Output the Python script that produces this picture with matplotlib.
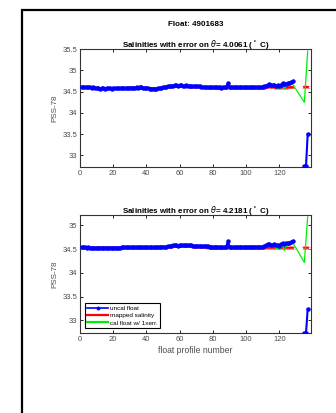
import numpy as np
import matplotlib
matplotlib.use("Agg")
import matplotlib.pyplot as plt
from matplotlib.patches import Rectangle
from matplotlib.lines import Line2D

plt.rcParams['font.family'] = ['Liberation Sans', 'DejaVu Sans']

nan = np.nan
profiles = list(range(1, 129))
end_x = [135, 136, 137]

# Top panel (theta = 4.0061)
uncal1 = [34.61, 34.61, 34.60, 34.61, 34.60, 34.60, 34.59, 34.60, 34.59, 34.58,
          34.58, 34.57, 34.58, 34.58, 34.57, 34.58, 34.58, 34.58, 34.57, 34.58,
          34.58, 34.58, 34.58, 34.58, 34.59, 34.59, 34.58, 34.58, 34.59, 34.59,
          34.59, 34.59, 34.59, 34.60, 34.59, 34.60, 34.60, 34.59, 34.59, 34.59,
          34.58, 34.57, 34.57, 34.57, 34.57, 34.57, 34.58, 34.58, 34.59, 34.60,
          34.60, 34.61, 34.62, 34.63, 34.64, 34.64, 34.65, 34.65, 34.64, 34.65,
          34.65, 34.64, 34.64, 34.65, 34.64, 34.64, 34.63, 34.63, 34.63, 34.62,
          34.62, 34.62, 34.61, 34.61, 34.61, 34.60, 34.61, 34.60, 34.60, 34.60,
          34.60, 34.60, 34.60, 34.60, 34.59, 34.60, 34.60, 34.61, 34.70, 34.61,
          34.60, 34.60, 34.60, 34.60, 34.60, 34.61, 34.60, 34.60, 34.60, 34.60,
          34.60, 34.60, 34.60, 34.60, 34.60, 34.60, 34.61, 34.60, 34.60, 34.61,
          34.62, 34.64, 34.66, 34.67, 34.66, 34.65, 34.66, 34.64, 34.65, 34.63,
          34.66, 34.70, 34.67, 34.69, 34.70, 34.70, 34.72, 34.74]
uncal1_end = [32.75, 32.75, 33.5]
mapped1 = [34.61, 34.61, 34.61, 34.60, 34.60, 34.60, 34.60, 34.59, 34.59, 34.59,
           34.59, 34.58, 34.58, 34.58, 34.58, 34.58, 34.58, 34.58, 34.58, 34.58,
           34.58, 34.58, 34.58, 34.58, 34.58, 34.58, 34.58, 34.58, 34.59, 34.59,
           34.59, 34.59, 34.59, 34.59, 34.59, 34.59, 34.59, 34.59, 34.59, 34.59,
           34.58, 34.58, 34.57, 34.57, 34.57, 34.57, 34.57, 34.58, 34.58, 34.59,
           34.60, 34.61, 34.62, 34.62, 34.63, 34.63, 34.63, 34.63, 34.63, 34.63,
           34.63, 34.63, 34.63, 34.63, 34.63, 34.62, 34.62, 34.62, 34.62, 34.61,
           34.61, 34.61, 34.60, 34.60, 34.60, 34.60, 34.59, 34.59, 34.59, 34.59,
           34.58, 34.58, 34.58, 34.58, 34.58, 34.58, 34.59, 34.59, 34.60, 34.59,
           34.59, 34.59, 34.59, 34.59, 34.59, 34.59, 34.59, 34.59, 34.59, 34.59,
           34.59, 34.59, 34.59, 34.59, 34.59, 34.59, 34.59, 34.59, 34.59, 34.59,
           34.59, 34.60, 34.60, 34.61, 34.60, 34.60, 34.60, 34.59, 34.59, 34.59,
           34.59, 34.60, 34.59, 34.59, 34.60, 34.60, 34.60, 34.60]
mapped1_end = [34.61, 34.61, 34.61]
cal1 = [34.61, 34.61, 34.60, 34.61, 34.60, 34.60, 34.59, 34.60, 34.59, 34.58,
        34.58, 34.57, 34.58, 34.58, 34.57, 34.58, 34.58, 34.58, 34.57, 34.58,
        34.58, 34.58, 34.58, 34.58, 34.59, 34.59, 34.58, 34.58, 34.59, 34.59,
        34.59, 34.59, 34.59, 34.60, 34.59, 34.60, 34.60, 34.59, 34.59, 34.59,
        34.58, 34.57, 34.56, 34.56, 34.56, 34.57, 34.58, 34.58, 34.59, 34.60,
        34.60, 34.61, 34.62, 34.63, 34.64, 34.64, 34.64, 34.64, 34.63, 34.64,
        34.64, 34.63, 34.63, 34.64, 34.63, 34.63, 34.62, 34.62, 34.62, 34.61,
        34.61, 34.61, 34.60, 34.60, 34.60, 34.59, 34.60, 34.59, 34.59, 34.59,
        34.59, 34.59, 34.59, 34.59, 34.58, 34.59, 34.59, 34.60, 34.66, 34.60,
        34.59, 34.59, 34.59, 34.59, 34.59, 34.60, 34.59, 34.59, 34.59, 34.59,
        34.59, 34.59, 34.59, 34.59, 34.59, 34.59, 34.60, 34.59, 34.59, 34.60,
        34.60, 34.62, 34.63, 34.64, 34.62, 34.61, 34.62, 34.58, 34.60, 34.57,
        34.60, 34.64, 34.56, 34.62, 34.65, 34.64, 34.66, 34.67]
cal1_end = [34.25, 34.85, 35.45]

# Bottom panel (theta = 4.2181)
uncal2 = [34.54, 34.54, 34.54, 34.53, 34.54, 34.53, 34.53, 34.53, 34.53, 34.53,
          34.53, 34.53, 34.52, 34.52, 34.53, 34.52, 34.53, 34.53, 34.53, 34.53,
          34.53, 34.53, 34.53, 34.53, 34.54, 34.54, 34.54, 34.54, 34.54, 34.54,
          34.54, 34.54, 34.54, 34.54, 34.54, 34.54, 34.54, 34.54, 34.54, 34.54,
          34.54, 34.54, 34.54, 34.54, 34.54, 34.54, 34.55, 34.55, 34.55, 34.55,
          34.55, 34.55, 34.56, 34.56, 34.57, 34.58, 34.59, 34.58, 34.57, 34.58,
          34.58, 34.58, 34.59, 34.58, 34.58, 34.58, 34.58, 34.57, 34.57, 34.57,
          34.57, 34.57, 34.56, 34.56, 34.56, 34.56, 34.56, 34.55, 34.55, 34.55,
          34.55, 34.55, 34.55, 34.54, 34.54, 34.54, 34.54, 34.55, 34.67, 34.55,
          34.54, 34.54, 34.54, 34.54, 34.55, 34.55, 34.55, 34.54, 34.55, 34.55,
          34.55, 34.55, 34.55, 34.55, 34.55, 34.55, 34.55, 34.55, 34.55, 34.55,
          34.56, 34.58, 34.60, 34.60, 34.59, 34.59, 34.60, 34.58, 34.59, 34.56,
          34.61, 34.62, 34.60, 34.63, 34.63, 34.63, 34.65, 34.67]
uncal2_end = [32.73, 32.73, 33.23]
mapped2 = [34.53, 34.53, 34.53, 34.53, 34.53, 34.53, 34.53, 34.53, 34.53, 34.53,
           34.53, 34.53, 34.53, 34.53, 34.53, 34.53, 34.53, 34.53, 34.53, 34.53,
           34.53, 34.53, 34.53, 34.53, 34.53, 34.53, 34.53, 34.53, 34.53, 34.53,
           34.53, 34.53, 34.53, 34.53, 34.53, 34.53, 34.53, 34.53, 34.53, 34.53,
           34.53, 34.53, 34.53, 34.53, 34.53, 34.53, 34.53, 34.54, 34.54, 34.54,
           34.54, 34.54, 34.55, 34.55, 34.55, 34.56, 34.56, 34.56, 34.56, 34.56,
           34.56, 34.56, 34.56, 34.56, 34.56, 34.56, 34.56, 34.55, 34.55, 34.55,
           34.55, 34.55, 34.54, 34.54, 34.54, 34.54, 34.53, 34.53, 34.53, 34.52,
           34.52, 34.52, 34.52, 34.52, 34.52, 34.52, 34.52, 34.53, 34.53, 34.53,
           34.53, 34.53, 34.53, 34.53, 34.53, 34.53, 34.53, 34.53, 34.53, 34.53,
           34.53, 34.53, 34.53, 34.53, 34.53, 34.53, 34.53, 34.53, 34.53, 34.53,
           34.53, 34.53, 34.53, 34.53, 34.53, 34.53, 34.53, 34.53, 34.53, 34.53,
           34.53, 34.53, 34.53, 34.53, 34.53, 34.53, 34.53, 34.53]
mapped2_end = [34.53, 34.53, 34.53]
cal2 = [34.53, 34.53, 34.53, 34.52, 34.53, 34.52, 34.52, 34.52, 34.52, 34.52,
        34.52, 34.52, 34.51, 34.51, 34.52, 34.51, 34.52, 34.52, 34.52, 34.52,
        34.52, 34.52, 34.52, 34.52, 34.53, 34.53, 34.53, 34.53, 34.53, 34.53,
        34.53, 34.53, 34.53, 34.53, 34.53, 34.53, 34.53, 34.53, 34.53, 34.53,
        34.53, 34.53, 34.53, 34.53, 34.53, 34.53, 34.54, 34.54, 34.54, 34.54,
        34.54, 34.54, 34.55, 34.55, 34.56, 34.57, 34.57, 34.57, 34.56, 34.57,
        34.57, 34.57, 34.57, 34.57, 34.57, 34.57, 34.57, 34.56, 34.56, 34.56,
        34.56, 34.56, 34.55, 34.55, 34.55, 34.54, 34.54, 34.54, 34.54, 34.54,
        34.54, 34.54, 34.53, 34.53, 34.53, 34.53, 34.53, 34.54, 34.62, 34.54,
        34.53, 34.53, 34.53, 34.53, 34.53, 34.54, 34.54, 34.53, 34.53, 34.54,
        34.54, 34.54, 34.54, 34.54, 34.54, 34.54, 34.54, 34.54, 34.54, 34.54,
        34.54, 34.56, 34.57, 34.57, 34.55, 34.54, 34.55, 34.50, 34.53, 34.49,
        34.55, 34.57, 34.47, 34.55, 34.59, 34.58, 34.61, 34.64]
cal2_end = [34.22, 34.70, 35.18]

map_err = 0.025

titles = [r"Salinities with error on $\theta$= 4.0061 ($^\circ$ C)",
          r"Salinities with error on $\theta$= 4.2181 ($^\circ$ C)"]
ylims = [(32.73, 35.5), (32.73, 35.22)]
yticks = [[33, 33.5, 34, 34.5, 35, 35.5], [33, 33.5, 34, 34.5, 35]]
xticks = [0, 20, 40, 60, 80, 100, 120]

fig = plt.figure(figsize=(3.36, 4.13), dpi=100)
fig.patches.append(Rectangle((22/336, -0.1), 1.0, 1 - 10/413 + 0.1,
                             transform=fig.transFigure, fill=False,
                             edgecolor='black', linewidth=1.6))

positions = [[80/336, 1-167/413, 231/336, 118/413],
             [80/336, 1-333/413, 231/336, 118/413]]
data = [(uncal1, uncal1_end, mapped1, mapped1_end, cal1, cal1_end),
        (uncal2, uncal2_end, mapped2, mapped2_end, cal2, cal2_end)]

tc = '#4d4d4d'
for i, ax_pos in enumerate(positions):
    ax = fig.add_axes(ax_pos)
    un, un_e, mp, mp_e, ca, ca_e = data[i]
    mx = profiles + [129] + end_x
    my = mp + [nan] + mp_e
    ax.errorbar(mx, my, yerr=map_err, color='red', linewidth=1.6,
                ecolor=(1, 0.55, 0.55), elinewidth=0.6, capsize=1.5,
                capthick=0.6, zorder=2)
    cx = profiles + [end_x[0], end_x[2]]
    cy = ca + [ca_e[0], ca_e[2]]
    ax.plot(cx, cy, color='#00ee00', linewidth=0.9, zorder=3)
    ux = profiles + [129] + end_x
    uy = un + [nan] + un_e
    ax.plot(ux, uy, color='blue', linewidth=1.5, marker='o', markersize=2.2,
            zorder=4)
    ax.set_xlim(0, 139)
    ax.set_ylim(*ylims[i])
    ax.set_xticks(xticks)
    ax.set_yticks(yticks[i])
    ax.set_yticklabels([f"{v:g}" for v in yticks[i]])
    ax.tick_params(direction='in', length=2.5, width=0.6, labelsize=5.5,
                   colors='black', labelcolor=tc, top=True, right=True, pad=2)
    for s in ax.spines.values():
        s.set_linewidth(0.8)
        s.set_color('#333333')
    ax.set_title(titles[i], fontsize=5.8, fontweight='bold', pad=1.5)
    ax.set_ylabel('PSS-78', fontsize=5.8, color=tc, labelpad=3)
    if i == 1:
        ax.set_xlabel('float profile number', fontsize=6.2, color=tc,
                      labelpad=2)
        handles = [Line2D([], [], color='blue', linewidth=1.2, marker='o',
                          markersize=1.8),
                   Line2D([], [], color='red', linewidth=1.6),
                   Line2D([], [], color='#00ee00', linewidth=1.6)]
        labels = ['uncal float', 'mapped salinity', 'cal float w/ 1xerr.']
        leg = ax.legend(handles, labels, loc='lower left', fontsize=4.6,
                        frameon=True, fancybox=False, edgecolor='black',
                        framealpha=1, borderpad=0.35, handlelength=3.2,
                        handletextpad=0.4, labelspacing=0.3,
                        borderaxespad=0.8)
        leg.get_frame().set_linewidth(0.8)

fig.text((80 + 311) / 2 / 336, 1 - 25 / 413, 'Float: 4901683',
         ha='center', va='center', fontsize=5.8, fontweight='bold')

fig.savefig('out.png', dpi=100)
